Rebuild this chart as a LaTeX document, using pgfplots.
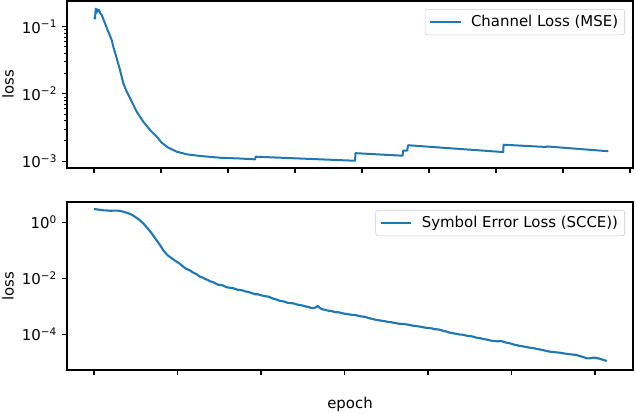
\documentclass[border=0pt]{standalone}
\usepackage{fontspec}
\setmainfont{DejaVu Sans}
\usepackage{pgfplots}
\usepackage{pgfplotstable}
\pgfplotsset{compat=1.18}
\definecolor{mplblue}{HTML}{1F77B4}

\pgfplotstableread{
x y
0.000 0.138
0.015 0.132
0.025 0.185
0.035 0.160
0.045 0.182
0.060 0.168
0.075 0.178
0.090 0.160
0.115 0.149
0.164 0.112
0.213 0.0843
0.264 0.0634
0.288 0.0503
0.339 0.0339
0.388 0.0227
0.437 0.0144
0.488 0.0108
0.563 0.00766
0.637 0.00543
0.736 0.00385
0.836 0.00290
0.936 0.00231
1.010 0.00188
1.109 0.00158
1.234 0.00138
1.384 0.00126
1.582 0.00119
1.881 0.00112
2.179 0.00109
2.403 0.00106
2.415 0.00116
3.896 0.00101
3.903 0.00131
4.607 0.00120
4.612 0.00143
4.676 0.00143
4.687 0.00172
5.313 0.00155
6.109 0.00136
6.113 0.00175
6.740 0.00162
6.760 0.00165
7.676 0.00140
}\mse

\pgfplotstableread{
x y
0.000 2.99
0.050 2.85
0.111 2.68
0.150 2.66
0.192 2.58
0.240 2.62
0.291 2.60
0.340 2.45
0.392 2.20
0.440 1.95
0.491 1.58
0.540 1.25
0.590 0.92
0.640 0.62
0.691 0.405
0.740 0.25
0.790 0.155
0.830 0.10
0.878 0.068
0.930 0.052
0.990 0.0392
1.020 0.0345
1.050 0.029
1.080 0.0245
1.110 0.0215
1.150 0.0190
1.190 0.0158
1.230 0.0140
1.269 0.0114
1.300 0.0108
1.330 0.0095
1.360 0.0088
1.390 0.0078
1.420 0.0074
1.450 0.0067
1.480 0.0060
1.509 0.00577
1.540 0.0056
1.570 0.0051
1.600 0.0047
1.630 0.0046
1.660 0.0045
1.690 0.0042
1.720 0.0039
1.749 0.00382
1.780 0.0037
1.810 0.0034
1.840 0.0033
1.870 0.0031
1.900 0.0029
1.930 0.0027
1.960 0.0027
1.988 0.00253
2.020 0.0024
2.050 0.00229
2.080 0.00225
2.108 0.00210
2.140 0.00190
2.170 0.00180
2.200 0.00168
2.228 0.00155
2.260 0.00152
2.290 0.00143
2.320 0.00133
2.350 0.00130
2.380 0.00128
2.410 0.00122
2.440 0.00114
2.467 0.00111
2.500 0.00106
2.540 0.00098
2.570 0.00094
2.600 0.00088
2.626 0.00086
2.660 0.00092
2.670 0.00100
2.686 0.00100
2.710 0.00085
2.746 0.00076
2.770 0.00075
2.800 0.00070
2.830 0.00069
2.860 0.00066
2.880 0.00062
2.907 0.00061
2.930 0.00061
2.960 0.00058
2.990 0.00055
3.010 0.00054
3.030 0.00053
3.060 0.00051
3.080 0.00050
3.105 0.00049
3.130 0.00049
3.160 0.00046
3.190 0.00044
3.225 0.000425
3.250 0.000420
3.280 0.000385
3.300 0.000375
3.330 0.000355
3.360 0.000340
3.386 0.000324
3.410 0.000318
3.440 0.000305
3.470 0.000300
3.500 0.000285
3.520 0.000280
3.540 0.000272
3.560 0.000270
3.584 0.000260
3.610 0.000255
3.640 0.000240
3.670 0.000238
3.700 0.000232
3.725 0.000230
3.750 0.000222
3.770 0.000220
3.784 0.000215
3.810 0.000205
3.840 0.000200
3.870 0.000195
3.900 0.000188
3.920 0.000185
3.944 0.000178
3.970 0.000172
4.000 0.000168
4.025 0.000166
4.050 0.000162
4.080 0.000152
4.104 0.000151
4.130 0.000148
4.160 0.000140
4.190 0.000130
4.220 0.000126
4.240 0.000120
4.263 0.000114
4.290 0.000111
4.320 0.000106
4.350 0.000103
4.380 0.000098
4.410 0.000097
4.440 0.000093
4.470 0.000088
4.500 0.000086
4.520 0.000085
4.543 0.000082
4.570 0.000077
4.600 0.000074
4.630 0.000072
4.660 0.000068
4.690 0.000066
4.720 0.000063
4.750 0.000060
4.782 0.0000577
4.810 0.0000570
4.840 0.0000560
4.870 0.0000575
4.902 0.0000544
4.930 0.0000510
4.960 0.0000490
5.000 0.0000460
5.030 0.0000430
5.070 0.0000405
5.102 0.0000382
5.130 0.0000375
5.160 0.0000360
5.200 0.0000340
5.230 0.0000330
5.270 0.0000318
5.302 0.0000299
5.340 0.0000288
5.380 0.0000270
5.420 0.0000255
5.461 0.0000239
5.490 0.0000235
5.520 0.0000228
5.550 0.0000225
5.581 0.0000220
5.610 0.0000212
5.640 0.0000205
5.680 0.0000197
5.710 0.0000192
5.745 0.0000188
5.781 0.0000182
5.810 0.0000170
5.840 0.0000160
5.870 0.0000150
5.901 0.0000139
5.930 0.0000138
5.960 0.0000142
5.980 0.0000147
6.000 0.0000145
6.020 0.0000140
6.040 0.0000139
6.070 0.0000130
6.090 0.0000125
6.115 0.0000118
6.140 0.0000111
}\scce

\pgfplotsset{
  /pgfplots/myaxis/.style={
    scale only axis,
    width=424.5pt,
    axis line style={line width=0.8pt},
    tick align=outside,
    tick pos=left,
    major tick length=3.65pt,
    minor tick length=2.1pt,
    every major tick/.style={black, line width=0.8pt},
    every minor tick/.style={black, line width=0.6pt},
    xticklabels={},
    xminorticks=false,
    ylabel={loss},
    every axis y label/.style={at={(axis description cs:-0.0936,0.5)}, rotate=90, anchor=south, inner sep=0pt},
    every axis x label/.style={at={(axis description cs:0.5,-0.1617)}, anchor=north, inner sep=0pt},
    yticklabel style={inner sep=0pt, xshift=-3.6pt},
    legend cell align=left,
    legend image code/.code={\draw[##1] (0pt,0pt) -- (23pt,0pt);},
    legend style={at={(axis description cs:1,1)}, anchor=north east, xshift=-6pt, yshift=-6pt,
      draw=black!20, rounded corners=2pt, fill=white, fill opacity=0.8, text opacity=1,
      inner xsep=3pt, inner ysep=2.5pt, column sep=5pt},
  },
}

\begin{document}
\fontsize{11.2pt}{13.5pt}\selectfont
\begin{tikzpicture}
\useasboundingbox (0,0) rectangle (477pt,310.5pt);
\begin{axis}[ymode=log, myaxis,
  height=125.25pt,
  at={(50.25pt,184.5pt)}, anchor=south west,
  xmin=-0.403, xmax=8.045,
  ymin=7.88e-4, ymax=0.241,
  xtick={0,1,2,3,4,5,6,7,8},
  ytick={1e-3,1e-2,1e-1},
  yticklabels={{10\textsuperscript{−3}},{10\textsuperscript{−2}},{10\textsuperscript{−1}}},
]
\addplot[mplblue, line width=1.5pt, line join=round] table[x=x,y=y] {\mse};
\addlegendentry{Channel Loss (MSE)}
\end{axis}
\begin{axis}[ymode=log, myaxis,
  height=126pt,
  at={(50.25pt,33pt)}, anchor=south west,
  xlabel={epoch},
  xmin=-0.323, xmax=6.455,
  ymin=5.31e-6, ymax=5.31,
  xtick={0,1,2,3,4,5,6},
  ytick={1e-4,1e-2,1},
  yminorticks=false,
  yticklabels={{10\textsuperscript{−4}},{10\textsuperscript{−2}},{10\textsuperscript{0}}},
]
\addplot[mplblue, line width=1.6pt, line join=round] table[x=x,y=y] {\scce};
\addlegendentry{Symbol Error Loss (SCCE))}
\end{axis}
\end{tikzpicture}
\end{document}
